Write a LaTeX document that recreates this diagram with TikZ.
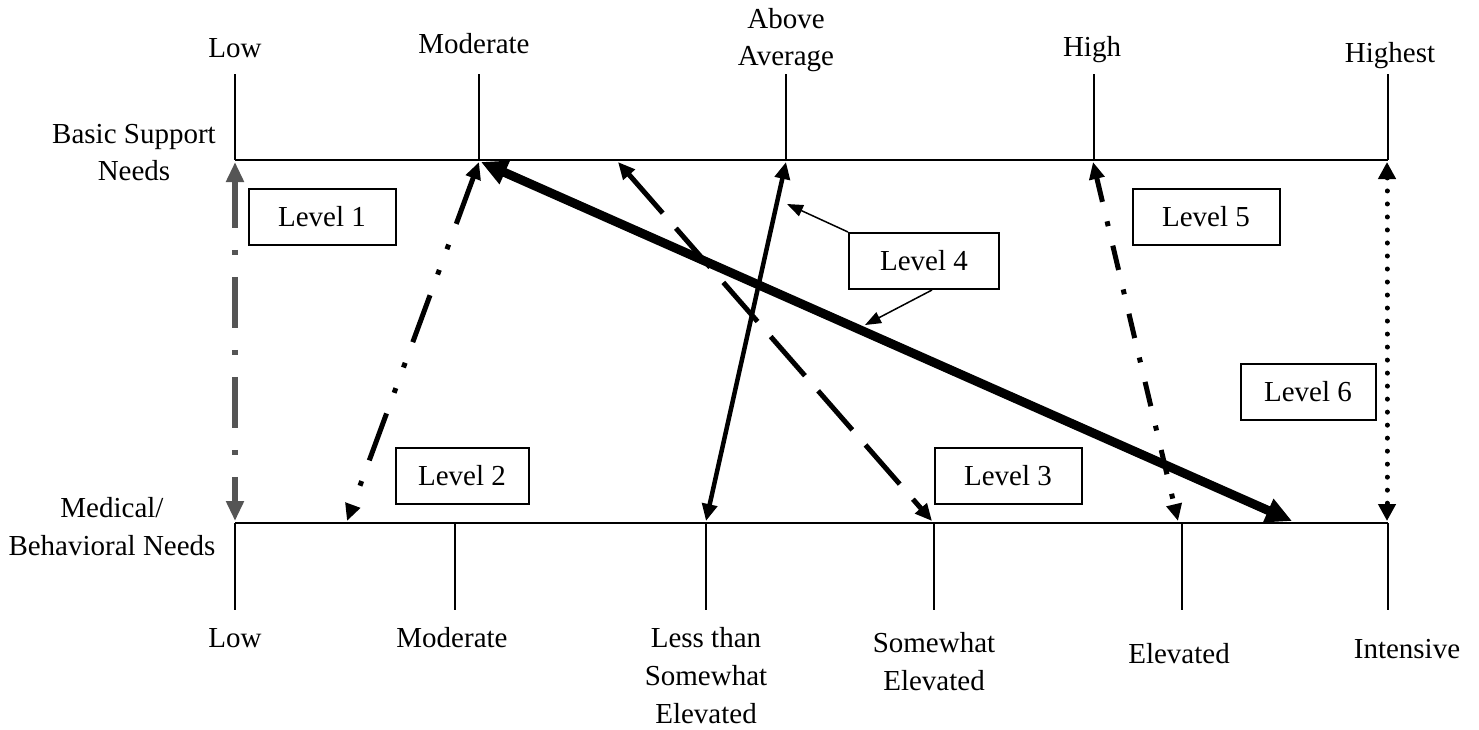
\documentclass[tikz,border=0pt]{standalone}
\usepackage{fontspec}
\setmainfont{Liberation Serif}
\usetikzlibrary{arrows.meta}
\definecolor{graytone}{HTML}{555555}
\begin{document}
\begin{tikzpicture}[x=1pt,y=-1pt,
  lbl/.style={font=\fontsize{29}{35}\selectfont, inner sep=0pt, anchor=base},
  lvl/.style={draw, line width=2pt, minimum width=147pt, minimum height=56pt, inner sep=0pt, font=\fontsize{29}{35}\selectfont},
  axis/.style={line width=2pt},
  dbl/.style={{Triangle[length=17pt,width=15pt]}-{Triangle[length=17pt,width=15pt]}},
  lead/.style={line width=1.5pt, -{Triangle[length=16pt,width=12pt]}},
]
\useasboundingbox (0,0) rectangle (1479,729);
% axis points
\coordinate (tA) at (235,160); \coordinate (tB) at (479,160); \coordinate (tC) at (786,160);
\coordinate (tD) at (1094,160); \coordinate (tE) at (1388,160);
\coordinate (bA) at (235,523); \coordinate (bB) at (455,523); \coordinate (bC) at (706,523);
\coordinate (bD) at (934,523); \coordinate (bE) at (1182,523); \coordinate (bF) at (1388,523);
% axes
\draw[axis] (tA) -- (tE);
\draw[axis] (bA) -- (bF);
\foreach \p in {tA,tB,tC,tD,tE} \draw[axis] (\p) -- ++(0,-86);
\foreach \p in {bA,bB,bC,bD,bE,bF} \draw[axis] (\p) -- ++(0,87);
% top labels
\node[lbl] (lt1) at (235,57) {Low};
\node[lbl] (lt2) at (474,53) {Moderate};
\node[lbl] (lt3a) at (786,28) {Above};
\node[lbl] (lt3b) at (786,65) {Average};
\node[lbl] (lt4) at (1092,56) {High};
\node[lbl] (lt5) at (1390,62) {Highest};
% side labels
\node[lbl] (ls1a) at (134,143) {Basic Support};
\node[lbl] (ls1b) at (134,180) {Needs};
\node[lbl] (ls2a) at (112,517) {Medical/};
\node[lbl] (ls2b) at (112,555) {Behavioral Needs};
% bottom labels
\node[lbl] (lb1) at (235,647) {Low};
\node[lbl] (lb2) at (452,647) {Moderate};
\node[lbl] (lb3a) at (706,647) {Less than};
\node[lbl] (lb3b) at (706,685) {Somewhat};
\node[lbl] (lb3c) at (706,723) {Elevated};
\node[lbl] (lb4a) at (934,652) {Somewhat};
\node[lbl] (lb4b) at (934,690) {Elevated};
\node[lbl] (lb5) at (1179,663) {Elevated};
\node[lbl] (lb6) at (1407,658) {Intensive};
% level boxes
\node[lvl] (l1) at (322,217) {Level 1};
\node[lvl, minimum width=133pt] (l2) at (462,476) {Level 2};
\node[lvl] (l3) at (1008,476) {Level 3};
\node[lvl, minimum width=150pt] (l4) at (924,261) {Level 4};
\node[lvl] (l5) at (1206,217) {Level 5};
\node[lvl, minimum width=135pt] (l6) at (1308,392) {Level 6};
% arrow end points
\coordinate (a1t) at (235,162); \coordinate (a1b) at (235,521);
\coordinate (a2t) at (479,162); \coordinate (a2b) at (347,521);
\coordinate (a3t) at (618,162); \coordinate (a3b) at (932,521);
\coordinate (a4t) at (786,162); \coordinate (a4b) at (706,521);
\coordinate (a5t) at (481,162); \coordinate (a5b) at (1292,521);
\coordinate (a6t) at (1093,162); \coordinate (a6b) at (1178,521);
\coordinate (a7t) at (1387,162); \coordinate (a7b) at (1387,521);
\coordinate (p4a) at (787,204); \coordinate (p4b) at (865,325);
% Level 1: gray dash-dot
\draw[graytone, line width=5.5pt, {Triangle[length=20pt,width=17pt]}-{Triangle[length=20pt,width=17pt]},
  dash pattern=on 51pt off 22pt on 5pt off 22pt, dash phase=4pt] (a1t) -- (a1b);
% Level 2: dash-dot-dot
\draw[line width=5pt, dbl, dash pattern=on 50pt off 22pt on 5pt off 22pt on 5pt off 22pt] (a2t) -- (a2b);
% Level 3: dashed
\draw[line width=5pt, dbl, dash pattern=on 52pt off 20pt] (a3t) -- (a3b);
% Level 4: solid and thick
\draw[line width=4.5pt, dbl] (a4t) -- (a4b);
\draw[line width=9pt, {Triangle[length=26pt,width=24pt]}-{Triangle[length=26pt,width=24pt]}] (a5t) -- (a5b);
% Level 5: dash-dot
\draw[line width=5pt, dbl, dash pattern=on 25pt off 20pt on 5pt off 20pt] (a6t) -- (a6b);
% Level 6: dotted
\draw[line width=5pt, line cap=round, dash pattern=on 0.01pt off 13pt,
  {Triangle[length=17pt,width=17pt]}-{Triangle[length=17pt,width=17pt]}] (a7t) -- (a7b);
% Level 4 leaders
\draw[lead] (l4.north west) -- (p4a);
\draw[lead] ([xshift=8pt]l4.south) -- (p4b);
\end{tikzpicture}
\end{document}
